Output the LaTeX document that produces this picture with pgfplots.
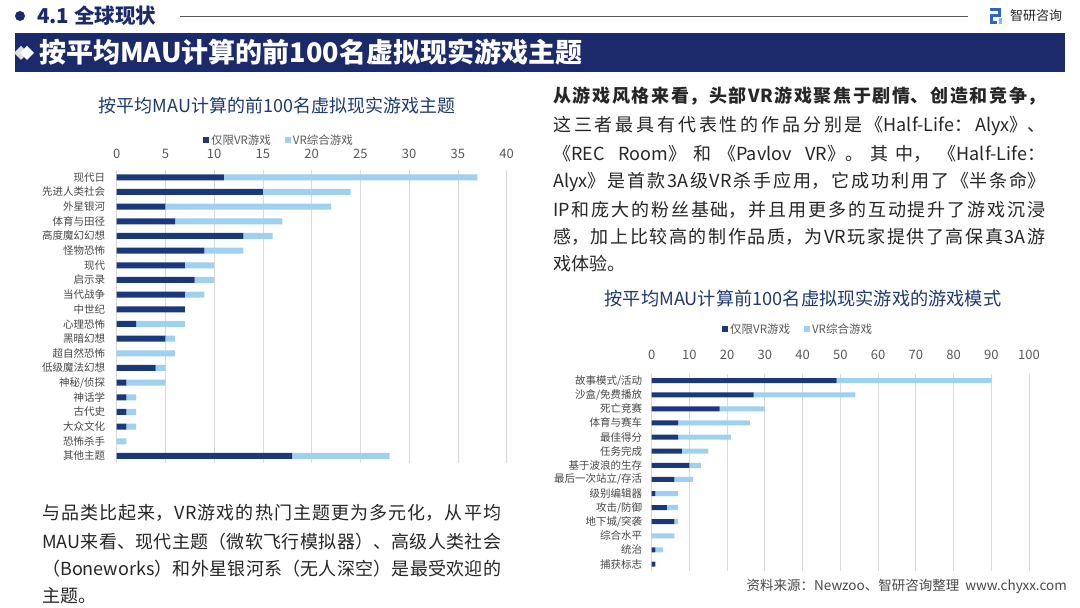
\documentclass[border=0pt]{standalone}
\usepackage{fontspec}
\setmainfont{Noto Sans CJK SC}
\usepackage{pgfplots}
\usepackage{pgfplotstable}
\pgfplotsset{compat=1.18}
\XeTeXlinebreaklocale "zh"
\XeTeXlinebreakskip=0pt plus 1.5pt minus 0.4pt

\definecolor{vrNavy}{HTML}{1B2A6B}
\definecolor{vrDark}{HTML}{1A397C}
\definecolor{vrLight}{HTML}{9ED0F0}
\definecolor{vrGrid}{HTML}{D9D9D9}
\definecolor{vrTick}{HTML}{595959}
\definecolor{vrBody}{HTML}{262626}
\definecolor{vrTitle}{HTML}{1F3A70}
\definecolor{vrLogo}{HTML}{2E64C8}

\newcommand\fs[1]{\fontsize{#1}{#1}\selectfont}
\newcommand\jline[2]{\parbox{#1}{\tolerance=10000\hbadness=10000\parfillskip=0pt\noindent#2}}

% themes, bottom row first (pos 0 = lowest bar)
\pgfplotstableread{
pos name dark light
0 其他主题 18 10
1 恐怖杀手 0 1
2 大众文化 1 1
3 古代史 1 1
4 神话学 1 1
5 神秘/侦探 1 4
6 低级魔法幻想 4 1
7 超自然恐怖 0 6
8 黑暗幻想 5 1
9 心理恐怖 2 5
10 中世纪 7 0
11 当代战争 7 2
12 启示录 8 2
13 现代 7 3
14 怪物恐怖 9 4
15 高度魔幻幻想 13 3
16 体育与田径 6 11
17 外星银河 5 17
18 先进人类社会 15 9
19 现代日 11 26
}\themes

% game modes, bottom row first
\pgfplotstableread{
pos name dark light
0 捕获标志 1 0
1 统治 1 2
2 综合水平 0 6
3 地下城/突袭 6 1
4 攻击/防御 4 3
5 级别编辑器 1 6
6 最后一次站立/存活 6 5
7 基于波浪的生存 10 3
8 任务完成 8 7
9 最佳得分 7 14
10 体育与赛车 7 19
11 死亡竞赛 18 12
12 沙盒/免费播放 27 27
13 故事模式/活动 49 41
}\modes

\pgfplotsset{
  vrbars/.style={
    scale only axis, xbar stacked, xmin=0,
    xticklabel pos=upper,
    axis line style={draw=none}, major tick length=0pt, tick style={draw=none},
    xmajorgrids, major grid style={draw=vrGrid,line width=0.8pt},
    xticklabel style={font=\fs{13},text=vrTick},
    yticklabel style={font=\fs{10.5},text=vrBody!85},
    /pgf/number format/assume math mode=true,
    legend columns=2,
    legend style={draw=none,fill=none,font=\fs{11.5},text=vrTick,anchor=center,
      /tikz/every even column/.append style={column sep=12pt}},
  },
}

\begin{document}
\begin{tikzpicture}
\fill[white] (0pt,0pt) rectangle (1080pt,608pt);

\begin{axis}[vrbars,
  at={(116.7pt,144.7pt)}, anchor=south west,
  width=390pt, height=293.3pt,
  xmax=40, xtick={0,5,...,40},
  ymin=-0.5, ymax=19.5, ytick={0,...,19},
  yticklabels from table={\themes}{name},
  bar width=6pt,
  xticklabel style={yshift=8pt},
  yticklabel style={xshift=-8pt},
  legend style={at={(0.416,1.102)}},
]
\addplot[fill=vrDark,draw=none,
  legend image code/.code={\fill[vrDark] (0pt,-3pt) rectangle (6pt,3pt);}]
  table[x=dark,y=pos]{\themes};
\addlegendentry{仅限VR游戏}
\addplot[fill=vrLight,draw=none,
  legend image code/.code={\fill[vrLight] (0pt,-3pt) rectangle (6pt,3pt);}]
  table[x=light,y=pos]{\themes};
\addlegendentry{VR综合游戏}
\end{axis}

\begin{axis}[vrbars,
  at={(651.7pt,36.9pt)}, anchor=south west,
  width=377.3pt, height=197.5pt,
  xmax=100, xtick={0,10,...,100},
  ymin=-0.5, ymax=13.5, ytick={0,...,13},
  yticklabels from table={\modes}{name},
  bar width=5pt,
  xticklabel style={yshift=10pt},
  yticklabel style={xshift=-6pt},
  legend style={at={(0.388,1.225)}},
]
\addplot[fill=vrDark,draw=none,
  legend image code/.code={\fill[vrDark] (0pt,-3pt) rectangle (6pt,3pt);}]
  table[x=dark,y=pos]{\modes};
\addlegendentry{仅限VR游戏}
\addplot[fill=vrLight,draw=none,
  legend image code/.code={\fill[vrLight] (0pt,-3pt) rectangle (6pt,3pt);}]
  table[x=light,y=pos]{\modes};
\addlegendentry{VR综合游戏}
\end{axis}

% page furniture, y measured from the top
\begin{scope}[x=1pt,y=-1pt,shift={(0pt,608pt)}]
  % header
  \fill[vrNavy] (20,16) circle (5pt);
  \node[anchor=west,inner sep=0pt,font=\fs{20.5}\bfseries,text=vrNavy] at (37,16) {4.1 全球现状};
  \draw[vrTick,line width=0.8pt] (180,16) -- (968,16);
  \fill[vrLogo] (990,8) rectangle (1001,11);
  \fill[vrLogo] (998,8) rectangle (1001,16);
  \fill[vrLogo] (990,14.5) rectangle (1001,17);
  \fill[vrLogo] (990,14.5) rectangle (993,24);
  \fill[vrLogo] (990,21) rectangle (997,24);
  \fill[vrLight!80!vrLogo] (999,18) rectangle (1002,24);
  \node[anchor=west,inner sep=0pt,font=\fs{13},text=vrBody] at (1010,16) {智研咨询};
  % banner
  \fill[vrNavy] (15,33) rectangle (1065,72);
  \fill[white!75!gray] (21,46) -- (28,53) -- (21,60) -- (14,53) -- cycle;
  \fill[white] (27,46) -- (34,53) -- (27,60) -- (20,53) -- cycle;
  \node[anchor=west,inner sep=0pt,font=\fs{27}\bfseries,text=white] at (39,52) {按平均MAU计算的前100名虚拟现实游戏主题};
  % chart titles
  \node[font=\fs{18},text=vrTitle] at (277,106) {按平均MAU计算的前100名虚拟现实游戏主题};
  \node[font=\fs{18.2},text=vrTitle] at (803,299) {按平均MAU计算前100名虚拟现实游戏的游戏模式};
  % right paragraph
  \begin{scope}[every node/.style={anchor=west,inner sep=0pt,font=\fs{18},text=vrBody}]
    \node at (553,96) {\jline{492pt}{\bfseries 从游戏风格来看，头部VR游戏聚焦于剧情、创造和竞争，}};
    \node at (553,126) {\jline{492pt}{这三者最具有代表性的作品分别是《Half-Life：Alyx》、}};
    \node at (553,154) {\jline{492pt}{《REC Room》和《Pavlov VR》。其中，《Half-Life：}};
    \node at (553,182) {\jline{492pt}{Alyx》是首款3A级VR杀手应用，它成功利用了《半条命》}};
    \node at (553,210) {\jline{492pt}{IP和庞大的粉丝基础，并且用更多的互动提升了游戏沉浸}};
    \node at (553,237) {\jline{492pt}{感，加上比较高的制作品质，为VR玩家提供了高保真3A游}};
    \node at (553,264) {戏体验。};
    % left paragraph
    \node at (42,513) {\jline{459pt}{与品类比起来，VR游戏的热门主题更为多元化，从平均}};
    \node at (42,542) {\jline{459pt}{MAU来看、现代主题（微软飞行模拟器）、高级人类社会}};
    \node at (42,569) {\jline{459pt}{（Boneworks）和外星银河系（无人深空）是最受欢迎的}};
    \node at (42,596) {主题。};
  \end{scope}
  % source
  \node[anchor=east,inner sep=0pt,font=\fs{13.5},text=vrBody!85] at (1067,586) {资料来源：Newzoo、智研咨询整理\ \ www.chyxx.com};
\end{scope}
\end{tikzpicture}
\end{document}
